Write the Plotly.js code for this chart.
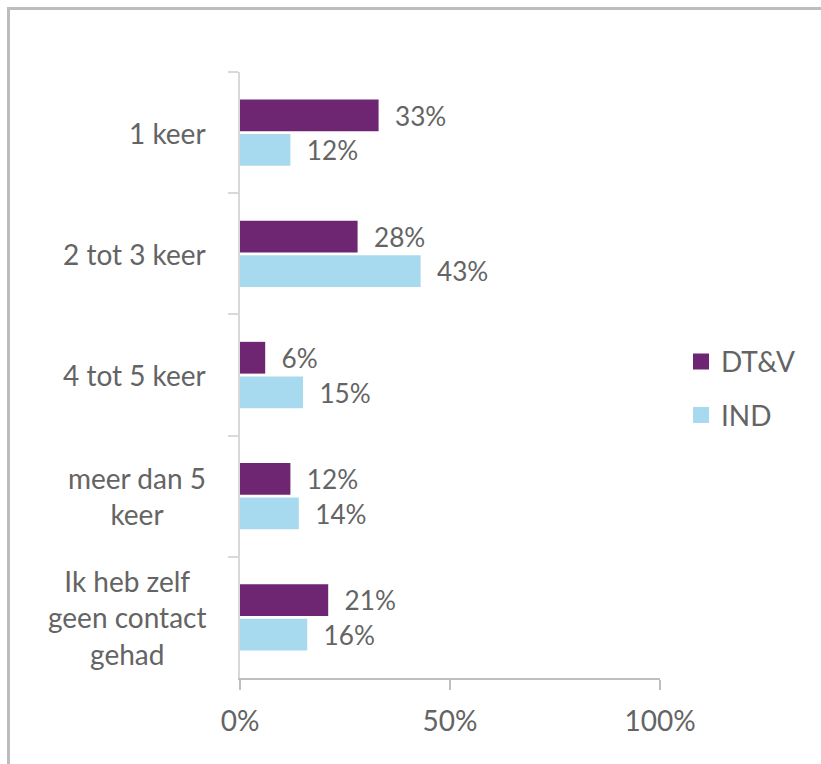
<!DOCTYPE html>
<html>
<head>
<meta charset="utf-8">
<script src="https://cdn.plot.ly/plotly-3.0.1.min.js"></script>
<style>
  html, body { margin: 0; padding: 0; overflow: hidden; background: #fff; }
  #chart { position: absolute; left: 0; top: 0; width: 821px; height: 764px; }
  #frame { position: absolute; left: 7px; top: 7px; width: 900px; height: 900px;
           border-left: 3px solid #BDBDBD; border-top: 3px solid #BDBDBD; pointer-events: none; }
</style>
</head>
<body>
<div id="chart"></div>
<div id="frame"></div>
<script>
const categories = ["1 keer", "2 tot 3 keer", "4 tot 5 keer", "meer dan 5<br>keer", "Ik heb zelf<br>geen contact<br>gehad"];
const seriesNames = ["DT&V", "IND"];
const dtvValues = [33, 28, 6, 12, 21];
const indValues = [12, 43, 15, 14, 16];
const xTickVals = [0, 50, 100];
const xTickText = ["0%", "50%", "100%"];

const colors = ["#6E2672", "#A8DAEF"];
const txtColor = "#646464";
const fontFam = "Lato, 'Open Sans', sans-serif";
const fs = 28;
const pad = "\u00a0\u00a0";

const barTrace = (name, vals, color) => ({
  type: "bar",
  orientation: "h",
  name: name,
  y: categories,
  x: vals,
  marker: { color: color },
  texttemplate: pad + "%{x}%",
  textposition: "outside",
  textfont: { size: fs, color: txtColor, family: fontFam },
  cliponaxis: false,
  showlegend: false,
  hoverinfo: "skip"
});

const legendTrace = (name, color, group) => ({
  type: "scatter",
  mode: "markers",
  name: name,
  x: [null],
  y: [null],
  legendgroup: group,
  marker: { symbol: "square", size: 16, color: color },
  showlegend: true
});

const data = [
  barTrace(seriesNames[0], dtvValues, colors[0]),
  barTrace(seriesNames[1], indValues, colors[1]),
  legendTrace(seriesNames[0], colors[0], "a"),
  legendTrace(seriesNames[1], colors[1], "b")
];

// category labels as centred multi-line annotations placed on the y axis scale
const catAnnotations = categories.map(c => ({
  xref: "paper",
  yref: "y",
  x: -0.076,
  y: c,
  xanchor: "right",
  yanchor: "middle",
  align: "center",
  showarrow: false,
  text: c,
  font: { size: fs, color: txtColor, family: fontFam }
}));

const layout = {
  width: 821,
  height: 764,
  margin: { l: 240, r: 161, t: 72, b: 86, pad: 0 },
  paper_bgcolor: "rgba(0,0,0,0)",
  plot_bgcolor: "rgba(0,0,0,0)",
  barmode: "group",
  bargap: 0.43,
  bargroupgap: 0.08,
  font: { family: fontFam, size: fs, color: txtColor },
  xaxis: {
    range: [0, 100],
    tickvals: xTickVals,
    ticktext: xTickText,
    showgrid: false,
    zeroline: false,
    showline: true,
    linecolor: "#BFBFBF",
    linewidth: 2,
    ticks: "outside",
    ticklen: 10,
    tickwidth: 2,
    tickcolor: "#BFBFBF",
    tickfont: { size: fs, color: txtColor },
    ticklabelstandoff: 7,
    fixedrange: true
  },
  yaxis: {
    type: "category",
    autorange: "reversed",
    showgrid: false,
    zeroline: false,
    showline: true,
    linecolor: "#D9D9D9",
    linewidth: 2,
    ticks: "outside",
    tickson: "boundaries",
    ticklen: 10,
    tickwidth: 2,
    tickcolor: "#D9D9D9",
    showticklabels: false,
    automargin: false,
    fixedrange: true
  },
  annotations: catAnnotations,
  legend: {
    x: 1.05,
    y: 0.478,
    xanchor: "left",
    yanchor: "middle",
    font: { size: fs, color: txtColor },
    tracegroupgap: 14,
    itemwidth: 30,
    bgcolor: "rgba(0,0,0,0)"
  },
  showlegend: true
};

Plotly.newPlot("chart", data, layout, { displayModeBar: false, staticPlot: true });
</script>
</body>
</html>
